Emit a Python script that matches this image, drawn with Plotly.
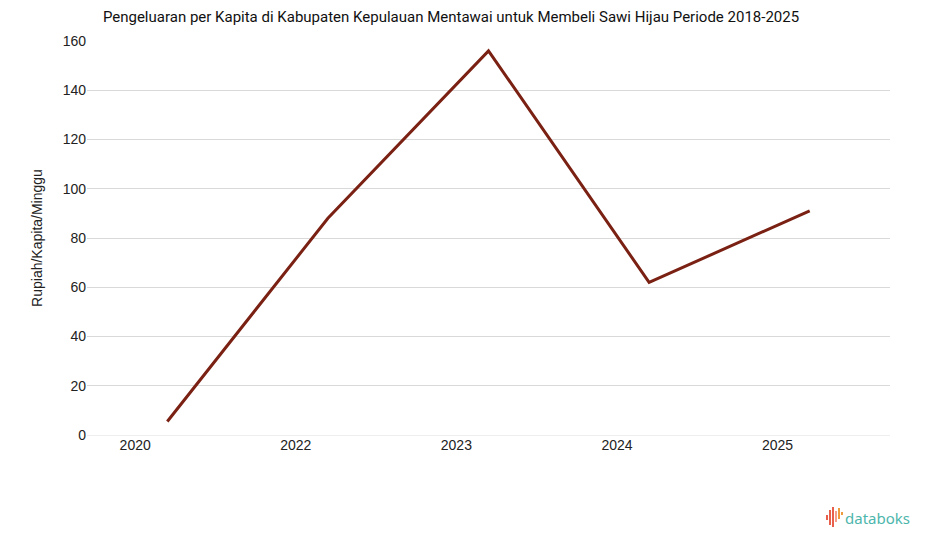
import plotly.graph_objects as go

years = ["2020", "2022", "2023", "2024", "2025"]
values = [5.5, 88, 156, 62, 91]
y_ticks = [0, 20, 40, 60, 80, 100, 120, 140, 160]

xpos = list(range(len(years)))
tick_offset = 0.2

fig = go.Figure()
fig.add_trace(go.Scatter(
    x=xpos, y=values, mode="lines",
    line=dict(color="#7a2113", width=3),
    hovertemplate="%{y}<extra></extra>",
))

OFF = 8  # page body margin
W, H = 925 - OFF, 547 - OFF
L, R, T, B = 87 - OFF, 35, 41 - OFF, 112
PW, PH = W - L - R, H - T - B


def px(xp):
    return (xp - OFF - L) / PW


def py(yp):
    return (H - B - (yp - OFF)) / PH


fig.update_layout(
    width=W, height=H,
    margin=dict(l=L, r=R, t=T, b=B),
    paper_bgcolor="white", plot_bgcolor="white",
    showlegend=False,
    title=dict(
        text="Pengeluaran per Kapita di Kabupaten Kepulauan Mentawai untuk Membeli Sawi Hijau Periode 2018-2025",
        x=(451 - OFF) / W, xanchor="center", y=1 - 3 / H, yanchor="top",
        font=dict(family="Roboto", size=15, color="#111111"),
    ),
    xaxis=dict(
        range=[-0.5, len(years) - 0.5],
        tickmode="array",
        tickvals=[i - tick_offset for i in xpos],
        ticktext=years,
        showgrid=False, zeroline=False, showline=False,
        ticks="", ticklen=0,
        tickfont=dict(family="Liberation Sans", size=14, color="#222222"),
    ),
    yaxis=dict(
        range=[0, 160],
        tickmode="array", tickvals=y_ticks,
        showgrid=True, gridcolor="#d9d9d9", gridwidth=1,
        zeroline=True, zerolinecolor="#eeeeee", zerolinewidth=1,
        showline=False, ticks="",
        tickfont=dict(family="Liberation Sans", size=14, color="#222222"),
        title=dict(text="Rupiah/Kapita/Minggu", standoff=16,
                   font=dict(family="Liberation Sans", size=14, color="#222222")),
    ),
)

# databoks logo
bars = [
    (826, 515, 520, "#e8604c"),
    (829, 510, 525, "#e8604c"),
    (832, 507, 527, "#e8604c"),
    (835, 511, 522, "#f4a08e"),
    (838, 508, 519, "#f09a3e"),
    (841, 512, 515, "#f09a3e"),
]
shapes = []
for x, y0, y1, c in bars:
    shapes.append(dict(type="rect", xref="paper", yref="paper",
                       x0=px(x), x1=px(x + 2),
                       y0=py(y1), y1=py(y0),
                       fillcolor=c, line=dict(width=0)))
fig.update_layout(shapes=shapes)
fig.add_annotation(
    text="databoks", xref="paper", yref="paper",
    x=px(843), xanchor="left",
    y=py(518), yanchor="middle",
    showarrow=False,
    font=dict(family="Noto Sans", size=15, color="#4db6ac"),
)

fig.write_html("out.html")
